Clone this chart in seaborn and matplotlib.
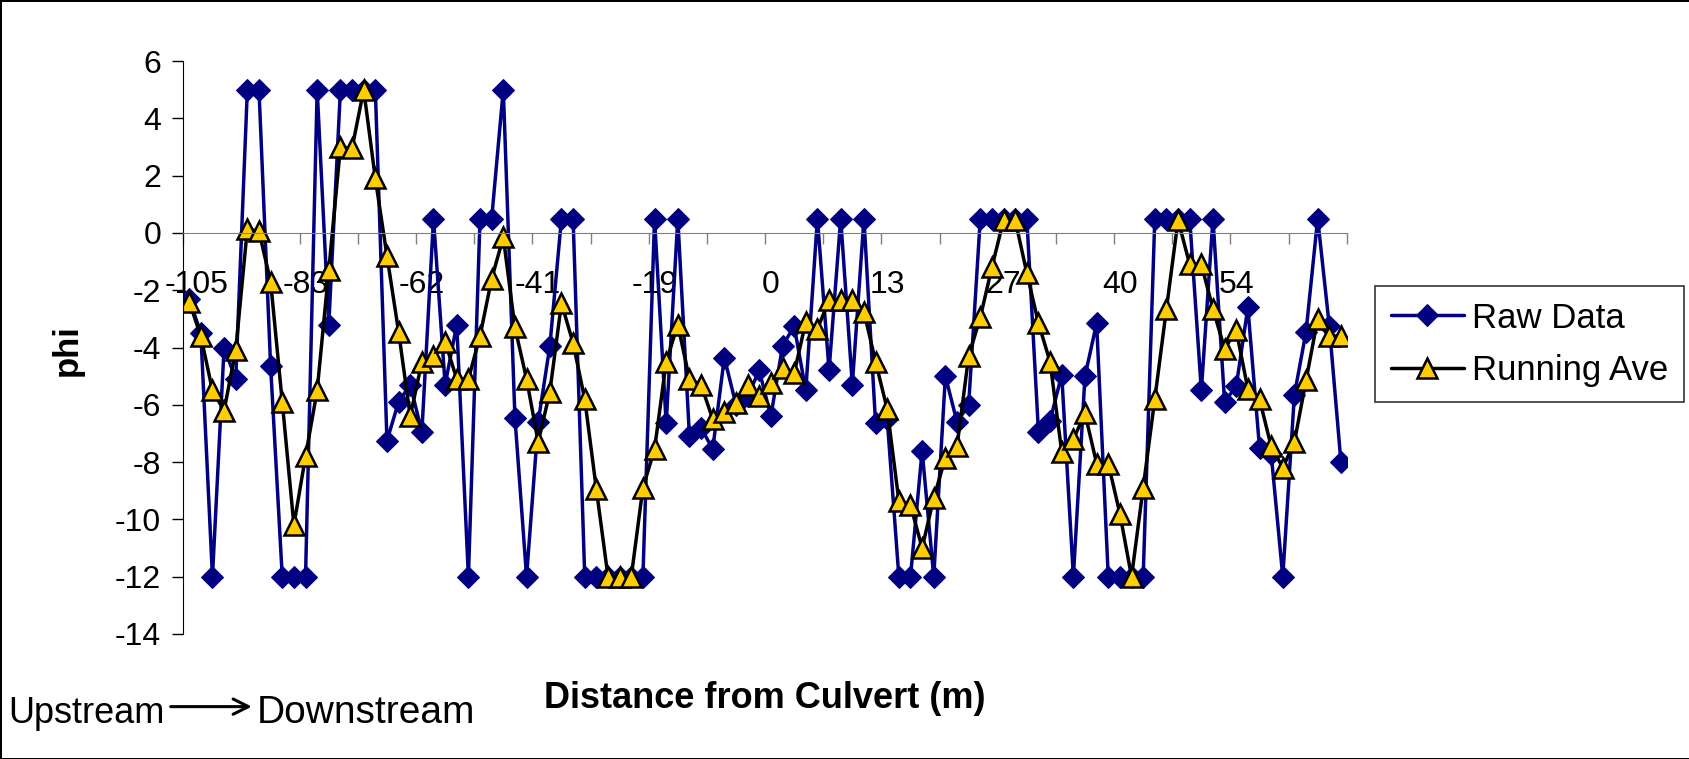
import matplotlib
matplotlib.use("Agg")
import matplotlib.pyplot as plt
import matplotlib.transforms as mtransforms
from matplotlib.patches import FancyArrowPatch
import numpy as np
import seaborn as sns

# phi values, one per sampling point (100 points)
raw_data = [
    -2.3, -3.5, -12, -4.0, -5.1, 5, 5, -4.65, -12, -12,
    -12, 5, -3.2, 5, 5, 5, 5, -7.25, -5.9, -5.3,
    -6.95, 0.5, -5.3, -3.2, -12, 0.5, 0.5, 5, -6.45, -12,
    -6.6, -3.95, 0.5, 0.5, -12, -12, -12, -12, -12, -12,
    0.5, -6.65, 0.5, -7.1, -6.8, -7.55, -4.35, -6.0, -5.7, -4.8,
    -6.4, -3.95, -3.25, -5.5, 0.5, -4.8, 0.5, -5.3, 0.5, -6.65,
    -6.5, -12, -12, -7.6, -12, -5.0, -6.6, -6.0, 0.5, 0.5,
    0.5, 0.5, 0.5, -6.95, -6.55, -4.95, -12, -5.0, -3.15, -12,
    -12, -12, -12, 0.5, 0.5, 0.5, 0.5, -5.5, 0.5, -5.9,
    -5.35, -2.6, -7.5, -7.7, -12, -5.65, -3.45, 0.5, -3.25, -8.0,
]
running_ave = [
    -2.4, -3.6, -5.5, -6.2, -4.1, 0.15, 0.05, -1.7, -5.9, -10.2,
    -7.8, -5.5, -1.3, 3.0, 2.95, 5.0, 1.9, -0.8, -3.45, -6.4,
    -4.5, -4.3, -3.8, -5.1, -5.1, -3.6, -1.6, -0.15, -3.3, -5.1,
    -7.3, -5.55, -2.45, -3.85, -5.8, -8.95, -12, -12, -12, -8.9,
    -7.55, -4.5, -3.2, -5.1, -5.3, -6.5, -6.25, -5.95, -5.3, -5.7,
    -5.25, -4.7, -4.9, -3.1, -3.35, -2.35, -2.35, -2.35, -2.75, -4.5,
    -6.15, -9.35, -9.5, -11.0, -9.25, -7.85, -7.45, -4.3, -2.95, -1.2,
    0.45, 0.45, -1.4, -3.15, -4.5, -7.65, -7.2, -6.3, -8.05, -8.05,
    -9.8, -12, -8.9, -5.8, -2.65, 0.45, -1.1, -1.1, -2.65, -4.05,
    -3.4, -5.45, -5.8, -7.45, -8.2, -7.3, -5.15, -3.0, -3.6, -3.6,
]
# distance labels shown every 10th point
tick_labels = ["-105", "-83", "-62", "-41", "-19", "0", "13", "27", "40", "54"]
label_step = 10
mark_step = 5

sns.set_style("white")
plt.rcParams["font.family"] = ["Liberation Sans", "DejaVu Sans"]
plt.rcParams["axes.unicode_minus"] = False
plt.rcParams["text.color"] = "black"
plt.rcParams["xtick.color"] = "black"
plt.rcParams["ytick.color"] = "black"
plt.rcParams["axes.labelcolor"] = "black"

fig = plt.figure(figsize=(16.9, 7.59), dpi=100)
fig.patch.set_edgecolor("black")
fig.patch.set_linewidth(2)
ax = fig.add_axes([0.1085, 0.1647, 0.6884, 0.7549])

pos = np.arange(len(raw_data))
sns.lineplot(x=pos, y=raw_data, ax=ax, color="#000080", lw=2.5, marker="D",
             markersize=11, markerfacecolor="#000080", markeredgecolor="#000080",
             label="Raw Data")
sns.lineplot(x=pos, y=running_ave, ax=ax, color="black", lw=2.5, marker="^",
             markersize=14, markerfacecolor="#FFCC00", markeredgecolor="black",
             markeredgewidth=1.8, label="Running Ave")

ax.set_xlim(-0.5, len(raw_data) - 0.5)
ax.set_ylim(-14, 6)
ax.set_yticks(range(-14, 7, 2))

for s in ["top", "right"]:
    ax.spines[s].set_visible(False)
ax.spines["left"].set_color("black")
ax.spines["bottom"].set_position(("data", 0))
ax.spines["bottom"].set_color("#808080")

ax.tick_params(axis="y", direction="out", left=True, length=8, width=1,
               color="black", pad=8, labelsize=23)
ax.set_xticks(pos[::label_step])
ax.set_xticklabels(tick_labels)
ax.set_xticks(np.arange(-0.5, len(raw_data), mark_step), minor=True)
ax.tick_params(axis="x", which="major", length=0, pad=27, labelsize=23)
ax.tick_params(axis="x", which="minor", bottom=True, direction="out",
               length=8, width=1, color="#808080")
first = ax.get_xticklabels()[0]
first.set_transform(first.get_transform() +
                    mtransforms.ScaledTranslation(0.07, 0, fig.dpi_scale_trans))

ax.set_ylabel("phi", fontsize=25, fontweight="bold")
ax.yaxis.set_label_coords(-0.086, 0.496)
ax.set_xlabel("Distance from Culvert (m)", fontsize=26, fontweight="bold")
ax.xaxis.set_label_coords(0.5, -0.082)

h, l = ax.get_legend_handles_labels()
leg = ax.legend(h, l, loc="upper left", bbox_to_anchor=(0.8136, 0.6232),
                bbox_transform=fig.transFigure, fontsize=25, frameon=True,
                fancybox=False, edgecolor="black", handlelength=2.1,
                handletextpad=0.25, borderpad=0.45, labelspacing=0.55,
                borderaxespad=0)
leg.get_frame().set_linewidth(1.2)

# flow-direction note under the axis
fig.text(0.0051, 0.06, "Upstream", fontsize=26, va="center", ha="left")
fig.text(0.152, 0.06, "Downstream", fontsize=28, va="center", ha="left")
fig.add_artist(FancyArrowPatch(
    (0.101, 0.069), (0.149, 0.069), transform=fig.transFigure,
    arrowstyle="->,head_length=0.5,head_width=0.25", mutation_scale=22,
    shrinkA=0, shrinkB=0, lw=2.2, color="black"))

fig.savefig("out.png", dpi=100)
